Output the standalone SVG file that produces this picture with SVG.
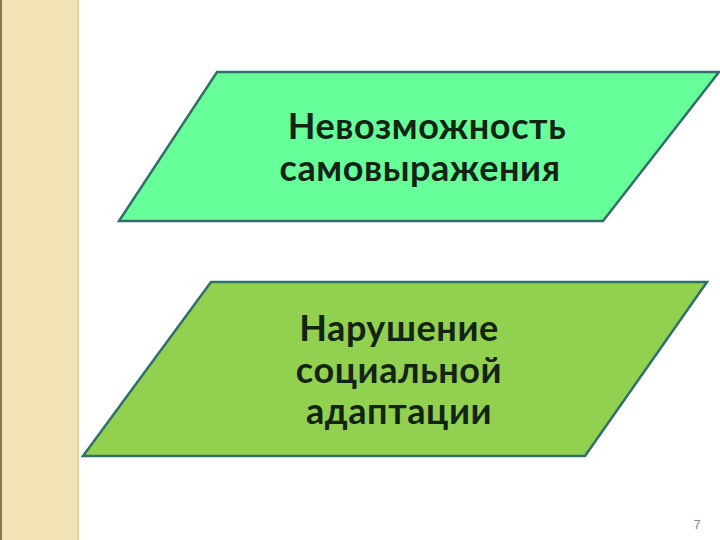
<svg xmlns="http://www.w3.org/2000/svg" width="720" height="540" viewBox="0 0 720 540">
<style>
.shape{stroke:#31706a;stroke-width:2.5}
.lbl{font-family:Lato,"Open Sans","Liberation Sans",sans-serif;font-weight:bold;font-size:36px;fill:#142414;text-anchor:middle;letter-spacing:0.6px}
</style>
<rect x="0" y="0" width="720" height="540" fill="#ffffff"/>
<g id="sidebar">
<rect x="0" y="0" width="79" height="540" fill="#f1e3b6"/>
<rect x="0" y="0" width="2" height="540" fill="#8a7352"/>
<rect x="77" y="0" width="2" height="540" fill="#e2d2a4"/>
</g>
<g id="node1">
<polygon class="shape" points="217,72 719,72 603,221 119,221" fill="#66ff99"/>
<text class="lbl" x="427" y="139">Невозможность</text>
<text class="lbl" x="420" y="181">самовыражения</text>
</g>
<g id="node2">
<polygon class="shape" points="211,282 707,282 585,456 83,456" fill="#92d050"/>
<text class="lbl" x="399" y="341">Нарушение</text>
<text class="lbl" x="399" y="383">социальной</text>
<text class="lbl" x="399" y="424">адаптации</text>
</g>
<g id="connectors"></g>
<text x="697" y="529" font-family="Liberation Sans,sans-serif" font-size="13" fill="#888888" text-anchor="middle">7</text>
</svg>
